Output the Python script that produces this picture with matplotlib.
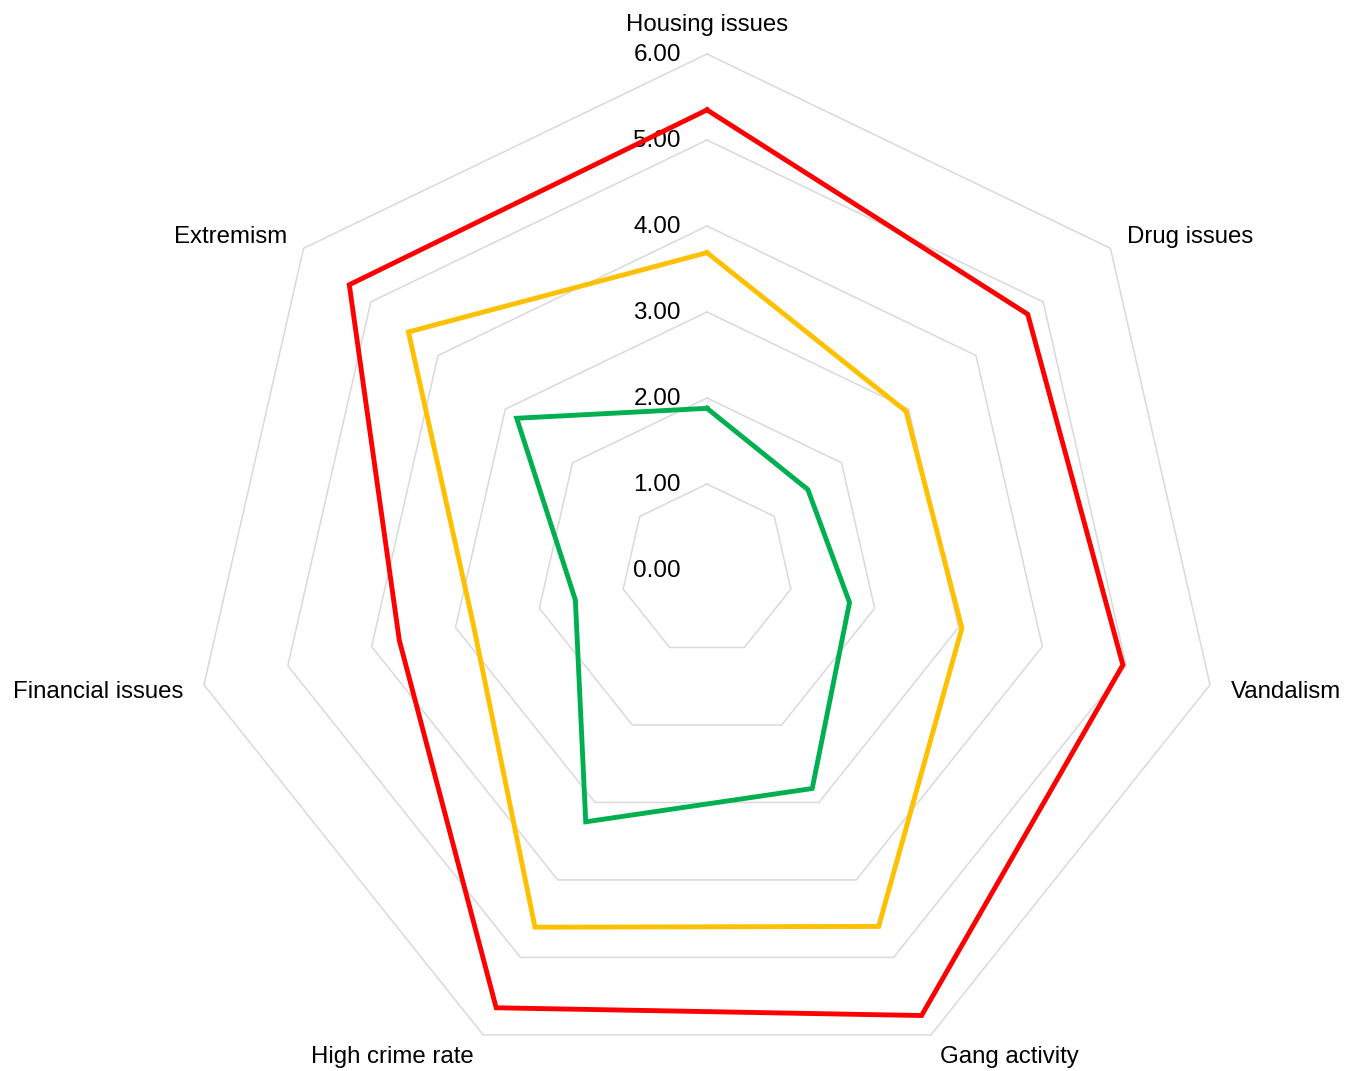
import numpy as np
import matplotlib.pyplot as plt

# categories clockwise from the top
categories = ["Housing issues", "Drug issues", "Vandalism", "Gang activity",
              "High crime rate", "Financial issues", "Extremism"]
red_vals = [5.35, 4.77, 4.96, 5.75, 5.65, 3.67, 5.32]
yellow_vals = [3.69, 2.96, 3.04, 4.60, 4.61, 2.79, 4.44]
green_vals = [1.88, 1.50, 1.70, 2.82, 3.25, 1.57, 2.83]
ticks = [0, 1, 2, 3, 4, 5, 6]

plt.rcParams['font.family'] = ['Liberation Sans', 'DejaVu Sans']

n = len(categories)
ang = np.pi / 2 - np.arange(n) * 2 * np.pi / n

def xy(vals):
    v = np.array(list(vals) + [vals[0]])
    a = np.append(ang, ang[0])
    return v * np.cos(a), v * np.sin(a)

fig = plt.figure(figsize=(13.47, 10.71), dpi=100)
ax = fig.add_axes([0, 0, 1, 1])
ax.set_xlim(-707 / 86, (1347 - 707) / 86)
ax.set_ylim(-(1071 - 570) / 86, 570 / 86)
ax.axis("off")

# heptagon grid
for t in ticks[1:]:
    gx, gy = xy([t] * n)
    ax.plot(gx, gy, color="#d9d9d9", lw=1.1, zorder=1)

for t in ticks:
    ax.text(-0.58, t - 0.015, "%.2f" % t, ha="center", va="center",
            fontsize=17.5, color="black", zorder=2)

for vals, col in [(red_vals, "#ff0000"), (yellow_vals, "#ffc000"), (green_vals, "#00b050")]:
    px, py = xy(vals)
    ax.plot(px, py, color=col, lw=3.5, solid_joinstyle="miter", zorder=3)

# category labels around the outside
for i, name in enumerate(categories):
    c, s = np.cos(ang[i]), np.sin(ang[i])
    r = 6.37 if i == 0 else 6.25
    if abs(c) < 1e-6:
        ha = "center"
    elif c > 0:
        ha = "left"
    else:
        ha = "right"
    ax.text(r * c, r * s - 0.03, name, ha=ha, va="center", fontsize=17.3)

fig.savefig("out.png", dpi=100)
